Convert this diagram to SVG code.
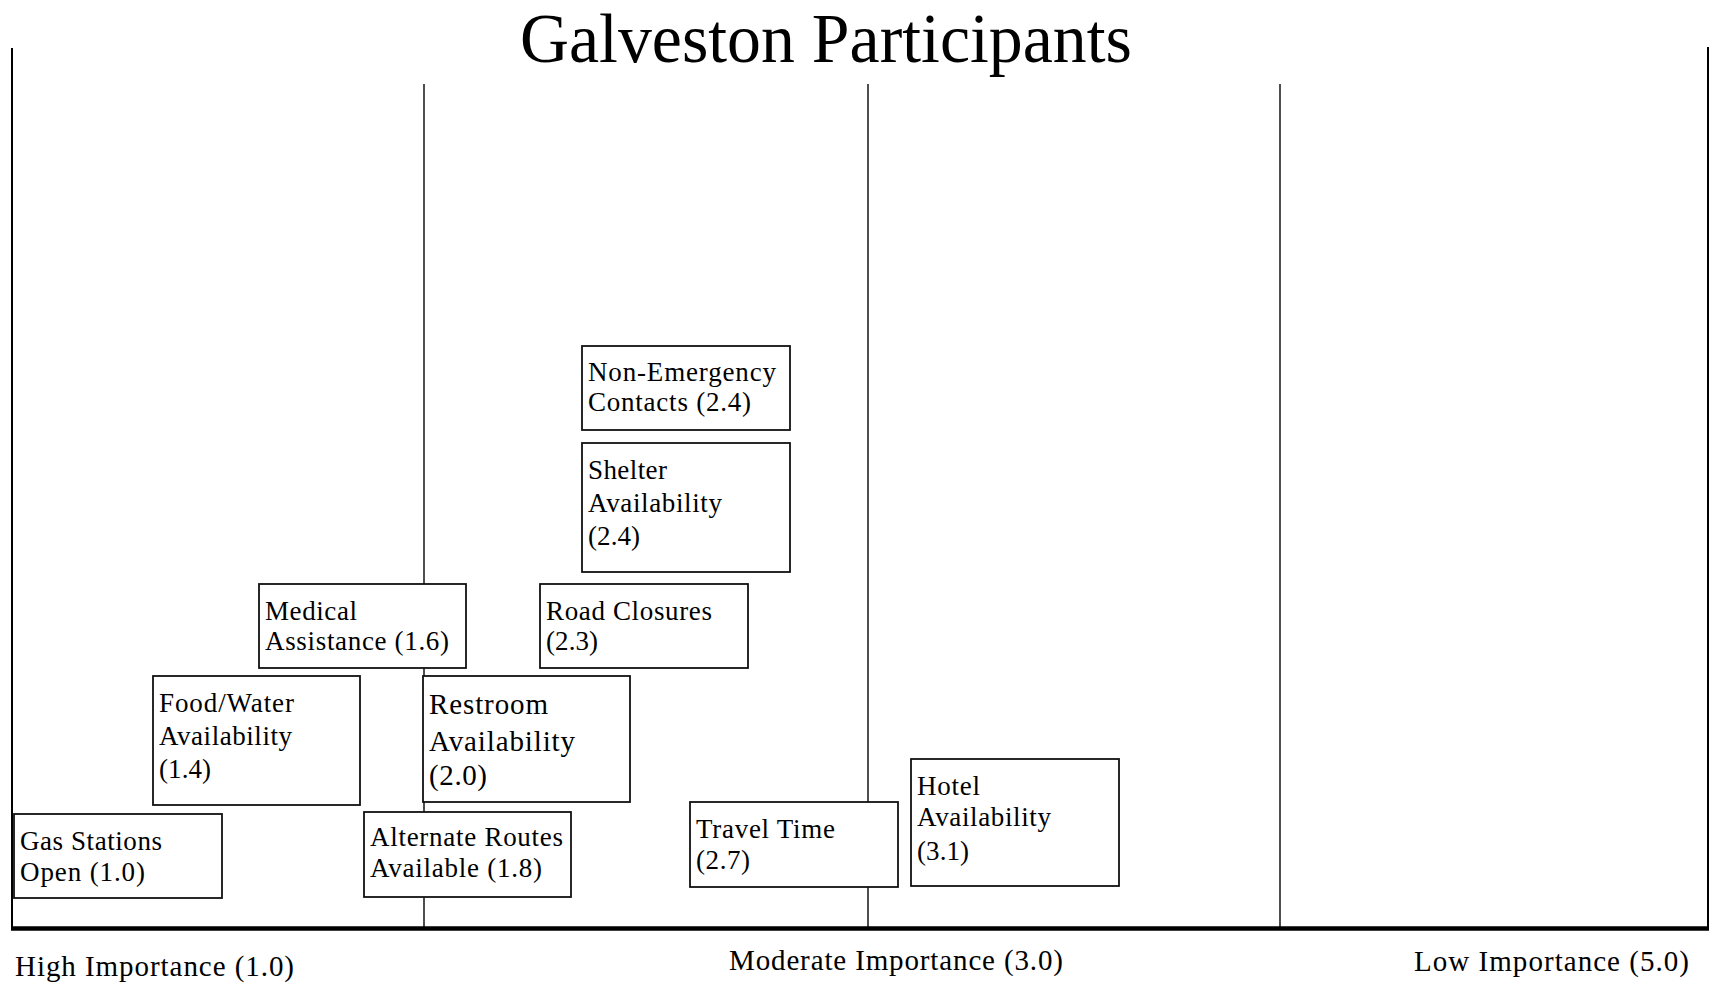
<svg xmlns="http://www.w3.org/2000/svg" width="1713" height="987" viewBox="0 0 1713 987">
<style>
.ax{stroke:#000;stroke-width:2;fill:none}
.in{stroke:#222;stroke-width:1.6;fill:none}
.box{fill:#fff;stroke:#111;stroke-width:1.8}
.t{font-family:"Liberation Serif","Times New Roman",serif;font-size:27px;fill:#000}
.lab{font-family:"Liberation Serif","Times New Roman",serif;font-size:29px;fill:#000}
.title{font-family:"Liberation Serif","Times New Roman",serif;font-size:69px;fill:#000}
</style>
<rect width="1713" height="987" fill="#fff"/>
<text class="title" x="520" y="62" textLength="612" lengthAdjust="spacingAndGlyphs">Galveston Participants</text>
<g id="axes">
<line class="ax" x1="12" y1="48" x2="12" y2="930"/>
<line class="ax" x1="1708" y1="47" x2="1708" y2="930"/>
<line class="in" x1="424" y1="84" x2="424" y2="928"/>
<line class="in" x1="868" y1="84" x2="868" y2="928"/>
<line class="in" x1="1280" y1="84" x2="1280" y2="928"/>
<line x1="11" y1="928.5" x2="1709" y2="928.5" stroke="#000" stroke-width="4.5"/>
</g>
<g id="labels">
<text class="lab" x="15" y="976" textLength="279">High Importance (1.0)</text>
<text class="lab" x="729" y="970" textLength="334">Moderate Importance (3.0)</text>
<text class="lab" x="1414" y="971" textLength="275">Low Importance (5.0)</text>
</g>
<g id="n-nonemergency">
<rect class="box" x="582" y="346" width="208" height="84"/>
<text class="t" x="588" y="381" textLength="188">Non-Emergency</text>
<text class="t" x="588" y="411" textLength="163">Contacts (2.4)</text>
</g>
<g id="n-shelter">
<rect class="box" x="582" y="443" width="208" height="129"/>
<text class="t" x="588" y="479" textLength="79">Shelter</text>
<text class="t" x="588" y="512" textLength="134">Availability</text>
<text class="t" x="588" y="545" textLength="52">(2.4)</text>
</g>
<g id="n-road">
<rect class="box" x="540" y="584" width="208" height="84"/>
<text class="t" x="546" y="620" textLength="166">Road Closures</text>
<text class="t" x="546" y="650" textLength="52">(2.3)</text>
</g>
<g id="n-medical">
<rect class="box" x="259" y="584" width="207" height="84"/>
<text class="t" x="265" y="620" textLength="92">Medical</text>
<text class="t" x="265" y="650" textLength="184">Assistance (1.6)</text>
</g>
<g id="n-food">
<rect class="box" x="153" y="676" width="207" height="129"/>
<text class="t" x="159" y="712" textLength="135">Food/Water</text>
<text class="t" x="159" y="745" textLength="133">Availability</text>
<text class="t" x="159" y="778" textLength="52">(1.4)</text>
</g>
<g id="n-restroom">
<rect class="box" x="423" y="676" width="207" height="126"/>
<text class="lab" x="429" y="714" textLength="119">Restroom</text>
<text class="lab" x="429" y="751" textLength="146">Availability</text>
<text class="lab" x="429" y="785" textLength="58">(2.0)</text>
</g>
<g id="n-gas">
<rect class="box" x="14" y="814" width="208" height="84"/>
<text class="t" x="20" y="850" textLength="142">Gas Stations</text>
<text class="t" x="20" y="881" textLength="125">Open (1.0)</text>
</g>
<g id="n-alternate">
<rect class="box" x="364" y="812" width="207" height="85"/>
<text class="t" x="370" y="846" textLength="193">Alternate Routes</text>
<text class="t" x="370" y="877" textLength="172">Available (1.8)</text>
</g>
<g id="n-travel">
<rect class="box" x="690" y="802" width="208" height="85"/>
<text class="t" x="696" y="838" textLength="139">Travel Time</text>
<text class="t" x="696" y="869" textLength="54">(2.7)</text>
</g>
<g id="n-hotel">
<rect class="box" x="911" y="759" width="208" height="127"/>
<text class="t" x="917" y="795" textLength="63">Hotel</text>
<text class="t" x="917" y="826" textLength="134">Availability</text>
<text class="t" x="917" y="860" textLength="52">(3.1)</text>
</g>
</svg>
